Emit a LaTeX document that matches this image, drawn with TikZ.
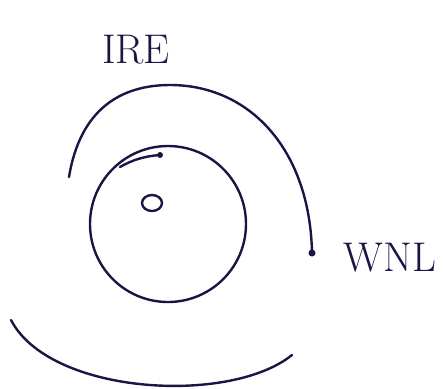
\documentclass[tikz,border=0pt]{standalone}
\usepackage{tikz}

\definecolor{inkblue}{HTML}{1C1445}

\begin{document}
\begin{tikzpicture}[
    x=0.5pt, y=-0.5pt,
    stroke/.style={draw=inkblue, line width=1.2pt, line cap=round, line join=round},
    blob/.style={fill=inkblue},
    tag/.style={text=inkblue, font=\huge, inner sep=0pt}
  ]
    \useasboundingbox (0,0) rectangle (443,388);

    % Outer arc over the top
    \coordinate (outerend) at (312,253);
    \draw[stroke] (69,177) .. controls (80,110) and (120,85) .. (170,85)
                           .. controls (250,85) and (310,150) .. (outerend);
    \fill[blob] (outerend) circle (3.5);

    % Inner closed loop
    \draw[stroke] (168,224) ellipse (78 and 78);

    % Short arc with dot
    \coordinate (innerend) at (160,155);
    \draw[stroke] (120,167) .. controls (132,160) and (145,156) .. (innerend);
    \fill[blob] (innerend) circle (3);

    % Small loop in the middle
    \draw[stroke] (152,203) ellipse (10 and 8);

    % Bottom arc
    \draw[stroke] (11,320) .. controls (50,395) and (230,405) .. (292,355);

    % Labels
    \node[tag] (ire) at (136,50) {IRE};
    \node[tag] (wnl) at (390,258) {WNL};

\end{tikzpicture}
\end{document}
